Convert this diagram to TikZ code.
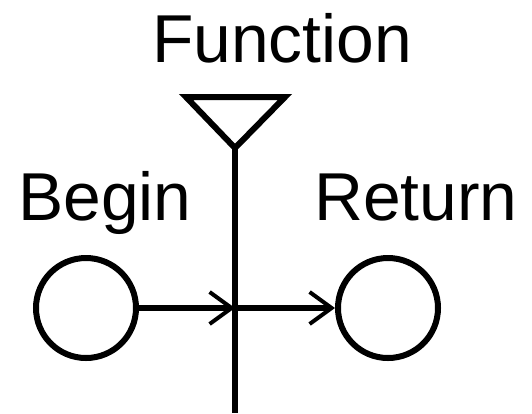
\documentclass[tikz,border=0pt]{standalone}
\usepackage{fontspec}
\setmainfont{Liberation Sans}
\usetikzlibrary{arrows.meta}

\tikzset{
term/.style     = {draw, circle, line width=6bp, inner sep=0pt, minimum size=100bp},
caption/.style  = {anchor=base, inner sep=0pt, font=\fontsize{68}{68}\selectfont},
flow/.style     = {line width=6bp, -{Straight Barb[length=22bp, width=32bp, line width=4bp]}},}

\begin{document}
\begin{tikzpicture}[x=1bp, y=-1bp]
    \useasboundingbox (0,0) rectangle (532,413);
    \node[caption] (functext) at (282,62) {Function};
    \node[caption] (begintext) at (105,220) {Begin};
    \node[caption] (returntext) at (416,220) {Return};
    \node[term] (begin) at (86,308) {};
    \node[term] (return) at (388,308) {};
    \coordinate (apex) at (235,148);
    \coordinate (cross) at (235,308);
    \coordinate (bottom) at (235,413);
    \draw[line width=6bp, line join=miter] (186,97) -- (285,97) -- (apex) -- cycle;
    \draw[line width=6bp] (apex) -- (bottom);
    \draw[flow] (begin) -- (cross);
    \draw[flow] (cross) -- (return);
\end{tikzpicture}
\end{document}
